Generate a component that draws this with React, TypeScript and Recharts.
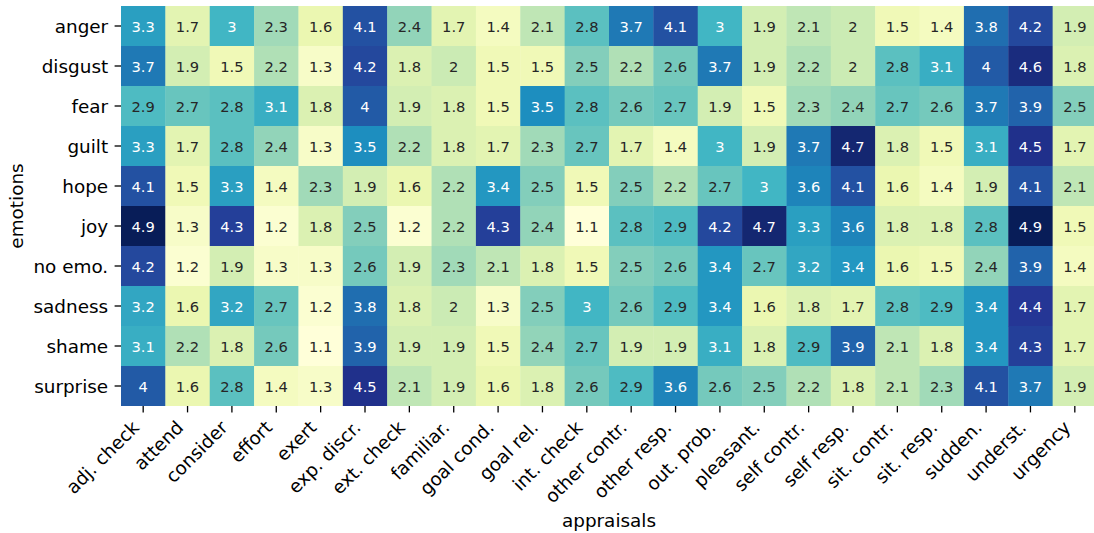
import React from 'react';
import { ScatterChart, Scatter, XAxis, YAxis, Label } from 'recharts';

const appraisals = ['adj. check', 'attend', 'consider', 'effort', 'exert', 'exp. discr.', 'ext. check', 'familiar.', 'goal cond.', 'goal rel.', 'int. check', 'other contr.', 'other resp.', 'out. prob.', 'pleasant.', 'self contr.', 'self resp.', 'sit. contr.', 'sit. resp.', 'sudden.', 'underst.', 'urgency'];
const emotions = ['anger', 'disgust', 'fear', 'guilt', 'hope', 'joy', 'no emo.', 'sadness', 'shame', 'surprise'];

const anger = [3.3, 1.7, 3, 2.3, 1.6, 4.1, 2.4, 1.7, 1.4, 2.1, 2.8, 3.7, 4.1, 3, 1.9, 2.1, 2, 1.5, 1.4, 3.8, 4.2, 1.9];
const disgust = [3.7, 1.9, 1.5, 2.2, 1.3, 4.2, 1.8, 2, 1.5, 1.5, 2.5, 2.2, 2.6, 3.7, 1.9, 2.2, 2, 2.8, 3.1, 4, 4.6, 1.8];
const fear = [2.9, 2.7, 2.8, 3.1, 1.8, 4, 1.9, 1.8, 1.5, 3.5, 2.8, 2.6, 2.7, 1.9, 1.5, 2.3, 2.4, 2.7, 2.6, 3.7, 3.9, 2.5];
const guilt = [3.3, 1.7, 2.8, 2.4, 1.3, 3.5, 2.2, 1.8, 1.7, 2.3, 2.7, 1.7, 1.4, 3, 1.9, 3.7, 4.7, 1.8, 1.5, 3.1, 4.5, 1.7];
const hope = [4.1, 1.5, 3.3, 1.4, 2.3, 1.9, 1.6, 2.2, 3.4, 2.5, 1.5, 2.5, 2.2, 2.7, 3, 3.6, 4.1, 1.6, 1.4, 1.9, 4.1, 2.1];
const joy = [4.9, 1.3, 4.3, 1.2, 1.8, 2.5, 1.2, 2.2, 4.3, 2.4, 1.1, 2.8, 2.9, 4.2, 4.7, 3.3, 3.6, 1.8, 1.8, 2.8, 4.9, 1.5];
const noEmo = [4.2, 1.2, 1.9, 1.3, 1.3, 2.6, 1.9, 2.3, 2.1, 1.8, 1.5, 2.5, 2.6, 3.4, 2.7, 3.2, 3.4, 1.6, 1.5, 2.4, 3.9, 1.4];
const sadness = [3.2, 1.6, 3.2, 2.7, 1.2, 3.8, 1.8, 2, 1.3, 2.5, 3, 2.6, 2.9, 3.4, 1.6, 1.8, 1.7, 2.8, 2.9, 3.4, 4.4, 1.7];
const shame = [3.1, 2.2, 1.8, 2.6, 1.1, 3.9, 1.9, 1.9, 1.5, 2.4, 2.7, 1.9, 1.9, 3.1, 1.8, 2.9, 3.9, 2.1, 1.8, 3.4, 4.3, 1.7];
const surprise = [4, 1.6, 2.8, 1.4, 1.3, 4.5, 2.1, 1.9, 1.6, 1.8, 2.6, 2.9, 3.6, 2.6, 2.5, 2.2, 1.8, 2.1, 2.3, 4.1, 3.7, 1.9];

const rows = [anger, disgust, fear, guilt, hope, joy, noEmo, sadness, shame, surprise];

const VMIN = 1.1;
const VMAX = 4.9;
const YLGNBU = [
  [255, 255, 217], [237, 248, 177], [199, 233, 180], [127, 205, 187], [65, 182, 196],
  [29, 145, 192], [34, 94, 168], [37, 52, 148], [8, 29, 88],
];

function colorFor(v: number): number[] {
  let t = (v - VMIN) / (VMAX - VMIN);
  t = Math.max(0, Math.min(1, t));
  const pos = t * (YLGNBU.length - 1);
  const i = Math.min(Math.floor(pos), YLGNBU.length - 2);
  const f = pos - i;
  const a = YLGNBU[i];
  const b = YLGNBU[i + 1];
  return [0, 1, 2].map((k) => Math.round(a[k] + (b[k] - a[k]) * f));
}
function lum(c: number[]): number {
  const lin = c.map((x) => {
    const s = x / 255;
    return s <= 0.03928 ? s / 12.92 : Math.pow((s + 0.055) / 1.055, 2.4);
  });
  return 0.2126 * lin[0] + 0.7152 * lin[1] + 0.0722 * lin[2];
}

const cells: { x: number; y: number; v: number }[] = [];
rows.forEach((r, yi) => r.forEach((v, xi) => cells.push({ x: xi, y: yi, v })));

const W = 1100;
const H = 533;
const M_TOP = 6;
const M_RIGHT = 3;
const Y_W = 121;
const X_H = 127;
const PLOT_W = W - M_RIGHT - Y_W;
const PLOT_H = H - M_TOP - X_H;
const FONT = 'DejaVu Sans';

const CellShape = (props: any) => {
  const { cx, cy, payload } = props;
  const w = PLOT_W / appraisals.length;
  const h = PLOT_H / emotions.length;
  const c = colorFor(payload.v);
  const fill = `rgb(${c[0]},${c[1]},${c[2]})`;
  const txt = lum(c) > 0.408 ? '#262626' : '#ffffff';
  return (
    <g>
      <rect x={cx - w / 2} y={cy - h / 2} width={w + 0.4} height={h + 0.4} fill={fill} />
      <text x={cx} y={cy} textAnchor="middle" dominantBaseline="central" fontFamily={FONT} fontSize={14.7} fill={txt}>
        {String(payload.v)}
      </text>
    </g>
  );
};

const XTick = (props: any) => {
  const { x, y, payload } = props;
  const ax = x - 3;
  const ay = y + 16.3;
  return (
    <text x={ax} y={ay} transform={`rotate(-45, ${ax}, ${ay})`} textAnchor="end" fontFamily={FONT} fontSize={18.4} fill="#000">
      {appraisals[payload.value]}
    </text>
  );
};

const YTick = (props: any) => {
  const { x, y, payload } = props;
  return (
    <text x={x} y={y} textAnchor="end" dominantBaseline="central" fontFamily={FONT} fontSize={18.4} fill="#000">
      {emotions[payload.value]}
    </text>
  );
};

export default function App() {
  return (
    <div style={{ position: 'absolute', left: 0, top: 0, width: 1094, height: 533, overflow: 'hidden', background: '#fff' }}>
      <ScatterChart width={W} height={H} margin={{ top: M_TOP, right: M_RIGHT, bottom: 0, left: 0 }}>
        <XAxis
          type="number"
          dataKey="x"
          domain={[-0.5, appraisals.length - 0.5]}
          ticks={appraisals.map((_, i) => i)}
          interval={0}
          allowDataOverflow
          axisLine={false}
          tickLine={{ stroke: '#000', strokeWidth: 1.3 }}
          tickSize={6.4}
          tickMargin={0}
          height={X_H}
          tick={<XTick />}
        >
          <Label
            content={(p: any) => {
              const vb = p.viewBox || {};
              const cx = (vb.x ?? Y_W) + (vb.width ?? PLOT_W) / 2;
              return (
                <text x={cx} y={520} textAnchor="middle" dominantBaseline="central" fontFamily={FONT} fontSize={18.4} fill="#000">
                  appraisals
                </text>
              );
            }}
          />
        </XAxis>
        <YAxis
          type="number"
          dataKey="y"
          domain={[-0.5, emotions.length - 0.5]}
          ticks={emotions.map((_, i) => i)}
          interval={0}
          reversed
          allowDataOverflow
          axisLine={false}
          tickLine={{ stroke: '#000', strokeWidth: 1.3 }}
          tickSize={6.4}
          tickMargin={6.4}
          width={Y_W}
          tick={<YTick />}
        >
          <Label
            content={(p: any) => {
              const vb = p.viewBox || {};
              const cy = (vb.y ?? M_TOP) + (vb.height ?? PLOT_H) / 2;
              return (
                <text x={16} y={cy} transform={`rotate(-90, 16, ${cy})`} textAnchor="middle" dominantBaseline="central" fontFamily={FONT} fontSize={18.4} fill="#000">
                  emotions
                </text>
              );
            }}
          />
        </YAxis>
        <Scatter data={cells} shape={<CellShape />} isAnimationActive={false} />
      </ScatterChart>
    </div>
  );
}
